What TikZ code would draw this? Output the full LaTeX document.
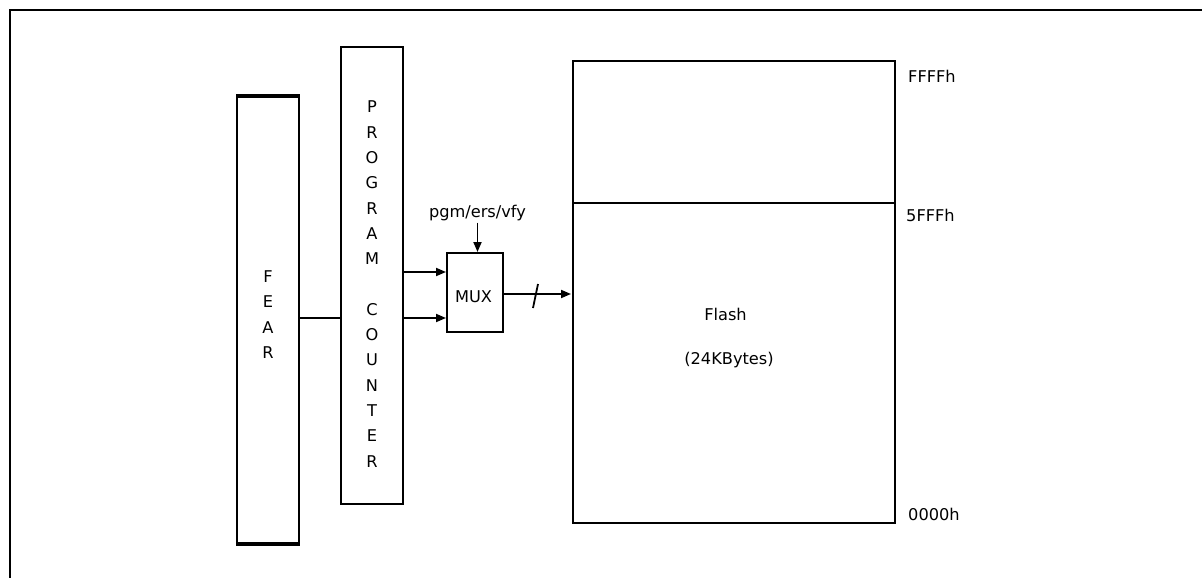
\documentclass[tikz,border=0pt]{standalone}
\usepackage{fontspec}
\setmainfont{DejaVu Sans}
\usetikzlibrary{arrows.meta}
\tikzset{
  box/.style={draw, line width=2pt, rectangle, inner sep=0pt},
  lettercol/.style={align=center, inner sep=0pt, font=\fontsize{16.2}{25.3}\selectfont},
  lbl/.style={inner sep=0pt, font=\fontsize{16.2}{19}\selectfont},
  arr/.style={line width=1.8pt, -{Triangle[length=10pt,width=8pt]}},
  wire/.style={line width=1.8pt}
}
\begin{document}
\begin{tikzpicture}[x=1pt,y=-1pt]
\useasboundingbox (0,0) rectangle (1202,578);
% outer frame (top and left edges)
\coordinate (fbl) at (10,578);
\coordinate (ftl) at (10,10);
\coordinate (ftr) at (1202,10);
\draw[line width=2.5pt] (fbl) -- (ftl) -- (ftr);

% FEAR
\node[box, minimum width=62pt, minimum height=446pt] (fear) at (268,320) {};
\draw[line width=4pt] (fear.north west) -- (fear.north east);
\draw[line width=4pt] (fear.south west) -- (fear.south east);
\node[lettercol] (feartext) at (268,314.5) {F\\E\\A\\R};

% Program counter
\node[box, minimum width=62pt, minimum height=457pt] (pc) at (372,275.5) {};
\node[lettercol] (pctext) at (372,284) {P\\R\\O\\G\\R\\A\\M\\[25.3pt]C\\O\\U\\N\\T\\E\\R};

% MUX
\node[box, minimum width=56pt, minimum height=79pt] (mux) at (475,292.5) {};
\node[lbl] (muxtext) at (473.5,296.5) {MUX};
\node[lbl, anchor=base] (pgm) at (477.5,217) {pgm/ers/vfy};

% Flash
\node[box, minimum width=322pt, minimum height=461pt] (flash) at (734,292) {};
\coordinate (div) at (0,203);
\draw[line width=2pt] (flash.west |- div) -- (flash.east |- div);
\node[lbl, anchor=base] (flashtext) at (725.5,320) {Flash};
\node[lbl, anchor=base] (sizetext) at (729,364) {(24KBytes)};

% address labels
\node[lbl, anchor=base west] (a1) at (908,82) {FFFFh};
\node[lbl, anchor=base west] (a2) at (906,221) {5FFFh};
\node[lbl, anchor=base west] (a3) at (908,520) {0000h};

% connectors
\coordinate (l1) at (0,318);
\coordinate (l2) at (0,272);
\coordinate (l3) at (0,294);
\draw[wire] (fear.east |- l1) -- (pc.west |- l1);
\draw[arr] (pc.east |- l2) -- (mux.west |- l2);
\draw[arr] (pc.east |- l1) -- (mux.west |- l1);
\draw[arr] ([yshift=-2pt]pgm.south) -- (pgm.south |- mux.north);
\draw[arr] (mux.east |- l3) -- ([xshift=-1pt]flash.west |- l3);
\coordinate (s1) at (538,284);
\coordinate (s2) at (533,308);
\draw[wire] (s1) -- (s2);
\end{tikzpicture}
\end{document}
